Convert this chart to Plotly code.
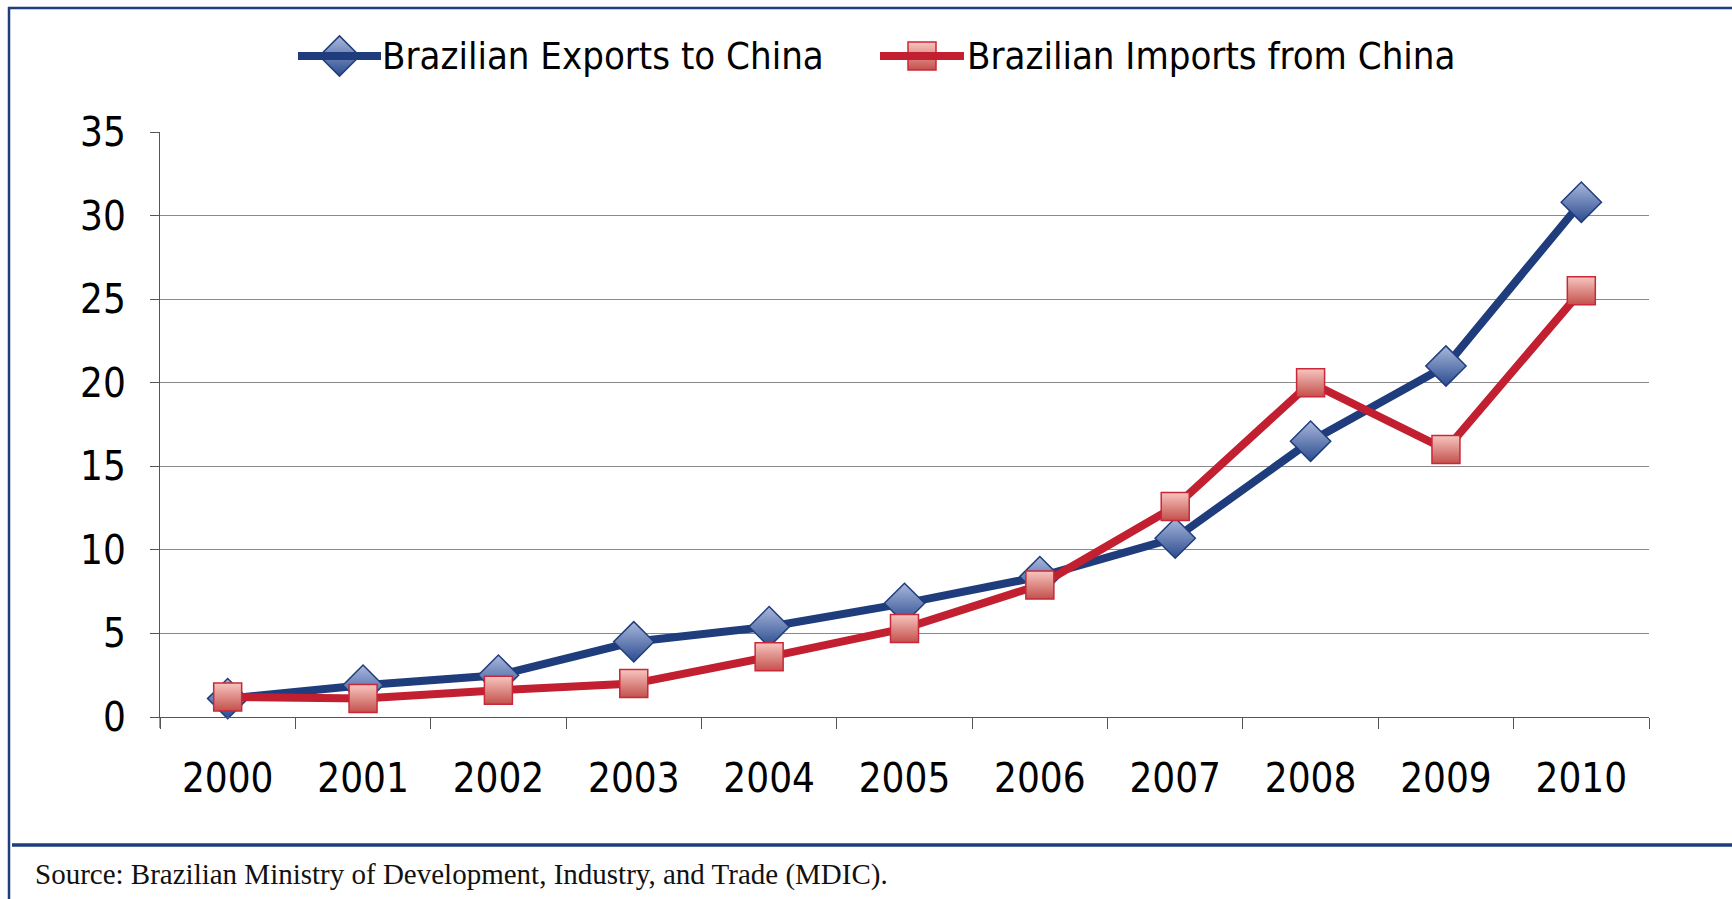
import plotly.graph_objects as go

# ---------------- data ----------------
years = ["2000", "2001", "2002", "2003", "2004", "2005", "2006", "2007", "2008", "2009", "2010"]
exports_to_china = [1.1, 1.9, 2.5, 4.5, 5.4, 6.8, 8.4, 10.7, 16.5, 21.0, 30.8]
imports_from_china = [1.2, 1.1, 1.6, 2.0, 3.6, 5.3, 7.9, 12.6, 20.0, 16.0, 25.5]
series_names = ["Brazilian Exports to China", "Brazilian Imports from China"]
y_ticks = [0, 5, 10, 15, 20, 25, 30, 35]
source_text = "Source: Brazilian Ministry of Development, Industry, and Trade (MDIC)."

# ---------------- layout constants (pixels) ----------------
W, H = 1732, 899
PL, PR, PT, PB = 160, 1649, 132, 717   # plot area edges

BLUE = "#1f3d7c"
RED = "#c21f30"
SANS = "DejaVu Sans Condensed, sans-serif"
SERIF = "Liberation Serif, serif"

styles = [
    dict(color=BLUE, symbol="diamond", size=31, fill="#aab8dc", grad="#2b4c8f", edge=BLUE),
    dict(color=RED, symbol="square", size=28, fill="#f7c6bf", grad="#c4504c", edge="#c8283a"),
]
series_values = [exports_to_china, imports_from_china]

fig = go.Figure()

for name, vals, st in zip(series_names, series_values, styles):
    fig.add_trace(go.Scatter(
        x=years, y=vals, name=name, mode="lines+markers",
        line=dict(color=st["color"], width=8),
        marker=dict(symbol=st["symbol"], size=st["size"], color=st["fill"],
                    gradient=dict(type="vertical", color=st["grad"]),
                    line=dict(color=st["edge"], width=1.5)),
        cliponaxis=False, showlegend=False,
    ))

# ---------------- custom legend (large swatches like the original) ----------------
legend_y = 56
legend_entries = [
    dict(x0=298, x1=381, text_x=380),
    dict(x0=880, x1=964, text_x=965),
]
for name, st, le in zip(series_names, styles, legend_entries):
    fig.add_shape(type="line", xref="x2", yref="y2",
                  x0=le["x0"], x1=le["x1"], y0=legend_y, y1=legend_y,
                  line=dict(color=st["color"], width=8))
    fig.add_trace(go.Scatter(
        x=[(le["x0"] + le["x1"]) / 2], y=[legend_y],
        xaxis="x2", yaxis="y2", mode="markers",
        marker=dict(symbol=st["symbol"], size=st["size"], color=st["fill"],
                    gradient=dict(type="vertical", color=st["grad"]),
                    line=dict(color=st["edge"], width=1.5)),
        cliponaxis=False, showlegend=False, hoverinfo="skip",
    ))
    fig.add_annotation(xref="x2", yref="y2", x=le["text_x"], y=legend_y,
                       text=name, showarrow=False, xanchor="left", yanchor="middle",
                       font=dict(family=SANS, size=38, color="#000000"))

# ---------------- frame & source ----------------
fig.add_shape(type="line", xref="x2", yref="y2", x0=9, x1=9, y0=7, y1=H,
              line=dict(color=BLUE, width=2.5))
fig.add_shape(type="line", xref="x2", yref="y2", x0=8, x1=W, y0=8, y1=8,
              line=dict(color=BLUE, width=2.5))
fig.add_shape(type="line", xref="x2", yref="y2", x0=12, x1=W, y0=845, y1=845,
              line=dict(color=BLUE, width=3.5))
# y axis line continues down through the tick length, as in the original
fig.add_shape(type="line", xref="x2", yref="y2", x0=PL, x1=PL, y0=PB, y1=PB + 11,
              line=dict(color="#555555", width=1.2))

fig.add_annotation(xref="x2", yref="y2", x=33, y=874,
                   text=source_text, showarrow=False, xanchor="left", yanchor="middle",
                   font=dict(family=SERIF, size=29, color="#111111"))

fig.update_layout(
    width=W, height=H,
    margin=dict(l=0, r=0, t=0, b=0, pad=0, autoexpand=False),
    paper_bgcolor="white", plot_bgcolor="rgba(0,0,0,0)",
    showlegend=False, hovermode=False,
    xaxis=dict(domain=[PL / W, PR / W], anchor="y", automargin=False,
               type="category", categoryorder="array", categoryarray=years,
               range=[-0.5, len(years) - 0.5], tickson="boundaries",
               ticks="outside", ticklen=11, tickwidth=1.2, tickcolor="#555555",
               showline=True, linecolor="#555555", linewidth=1.2,
               showgrid=False, zeroline=False,
               tickfont=dict(family=SANS, size=40, color="#000000"),
               ticklabelstandoff=26),
    yaxis=dict(domain=[(H - PB) / H, (H - PT) / H], anchor="x", automargin=False,
               range=[0, 35], tickmode="array", tickvals=y_ticks,
               ticktext=[str(v) for v in y_ticks],
               ticks="outside", ticklen=9, tickwidth=1.2, tickcolor="#555555",
               showline=True, linecolor="#555555", linewidth=1.2,
               showgrid=True, gridcolor="#8a8a8a", gridwidth=1.2,
               zeroline=False,
               tickfont=dict(family=SANS, size=40, color="#000000"),
               ticklabelstandoff=16),
    xaxis2=dict(domain=[0, 1], anchor="y2", range=[0, W], visible=False, automargin=False),
    yaxis2=dict(domain=[0, 1], anchor="x2", range=[H, 0], visible=False, automargin=False),
)

fig.write_html("out.html",
               config={"displayModeBar": False, "responsive": False},
               post_script="document.body.style.margin='0';document.body.style.padding='0';")
